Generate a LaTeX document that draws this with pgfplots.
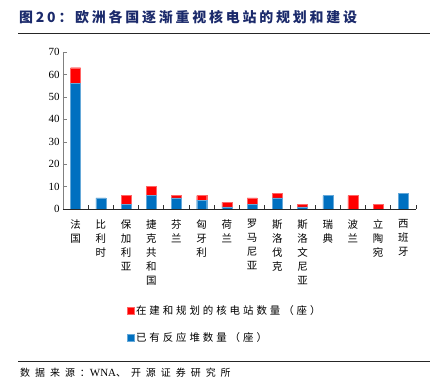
\documentclass[border=0pt]{standalone}
\usepackage{fontspec}
\setmainfont{Liberation Serif}
\newfontfamily\cjk{Noto Sans CJK SC}
\newfontfamily\cjkw[LetterSpace=28]{Noto Sans CJK SC}
\newfontfamily\cjks[LetterSpace=50]{Noto Sans CJK SC}
\newfontfamily\cjkt[LetterSpace=20]{Noto Sans CJK SC}
\usepackage{pgfplots}
\pgfplotsset{compat=1.18}
\definecolor{cblue}{HTML}{0070C0}
\definecolor{cred}{HTML}{FF0000}
\definecolor{ctitle}{HTML}{1B2A6B}
\begin{document}
\begin{tikzpicture}
\path (0bp,0bp) rectangle (443bp,387bp);
\node[anchor=west,inner sep=0,text=ctitle,font=\cjkt\bfseries\fontsize{14}{16}\selectfont] at (19bp,370bp) {图20：欧洲各国逐渐重视核电站的规划和建设};
\draw[line width=0.8pt,black!85] (18bp,354bp) -- (430bp,354bp);
\draw[line width=0.8pt,black!85] (18bp,26bp) -- (430bp,26bp);
\node[anchor=west,inner sep=0,font=\cjks\fontsize{10}{12}\selectfont] at (20bp,14bp) {数据来源：{\rmfamily\fontsize{11}{12}\selectfont WNA}、开源证券研究所};
\begin{axis}[
  at={(63bp,178bp)}, anchor=south west,
  scale only axis, width=353bp, height=157bp,
  ybar stacked, bar width=10bp,
  xmin=-0.5, xmax=13.5, ymin=0, ymax=70,
  ytick={0,10,...,70},
  xtick={0,...,13},
  xticklabels={{法\\国},{比\\利\\时},{保\\加\\利\\亚},{捷\\克\\共\\和\\国},{芬\\兰},{匈\\牙\\利},{荷\\兰},{罗\\马\\尼\\亚},{斯\\洛\\伐\\克},{斯\\洛\\文\\尼\\亚},{瑞\\典},{波\\兰},{立\\陶\\宛},{西\\班\\牙}},
  xticklabel style={anchor=north, align=center, font=\cjk\fontsize{10.5}{14}\selectfont, yshift=-7bp},
  major x tick style={draw=none},
  minor xtick={-0.5,0.5,...,13.5},
  minor tick length=4bp,
  minor x tick style={black!80, line width=0.8pt},
  major tick length=4bp,
  tick align=inside,
  axis x line*=bottom, axis y line*=left,
  x axis line style={black!85, line width=0.8pt},
  y axis line style={black!50, line width=0.6pt},
  y tick style={black!50},
  yticklabel style={font=\fontsize{11}{12}\selectfont},
  /pgf/number format/assume math mode=true,
  tick pos=left,
  reverse legend,
  legend style={at={(axis description cs:0.18,-0.6)}, anchor=north west, draw=none, fill=none,
    font=\cjkw\fontsize{10.5}{12}\selectfont, row sep=13bp, inner sep=0pt},
  legend cell align=left,
  legend image code/.code={\fill[#1] (0bp,-3.5bp) rectangle (7bp,3.5bp);},
]
\addplot[fill=cblue, draw=cblue!60!white, line width=0.3pt] coordinates {(0,56) (1,5) (2,2) (3,6) (4,5) (5,4) (6,1) (7,2) (8,5) (9,1) (10,6) (11,0) (12,0) (13,7)};
\addlegendentry{已有反应堆数量（座）}
\addplot[fill=cred, draw=cred!60!white, line width=0.3pt] coordinates {(0,7) (1,0) (2,4) (3,4) (4,1) (5,2) (6,2) (7,3) (8,2) (9,1) (10,0) (11,6) (12,2) (13,0)};
\addlegendentry{在建和规划的核电站数量（座）}
\end{axis}
\end{tikzpicture}
\end{document}
